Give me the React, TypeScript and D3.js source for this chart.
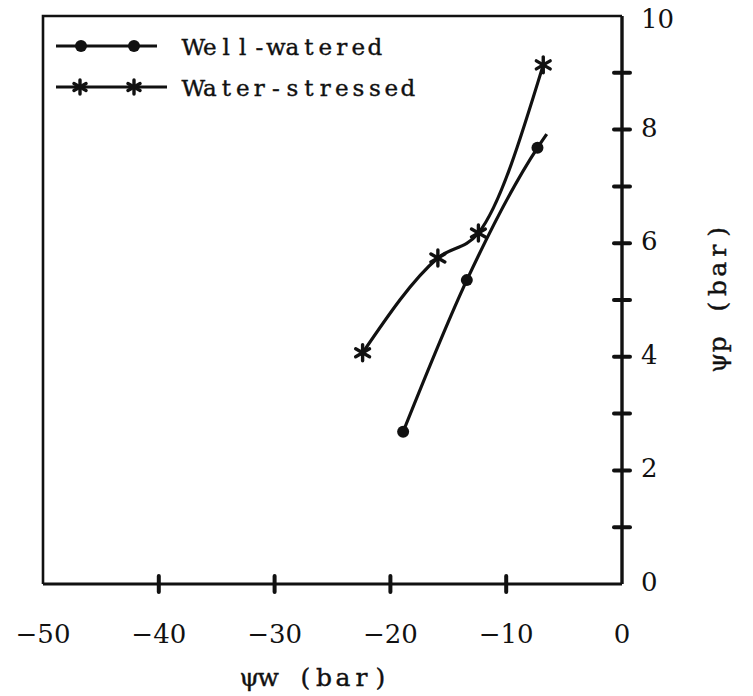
import React from 'react';
import * as d3 from 'd3';

// data (psi w, psi p in bar)
const wellWateredX = [-18.9, -13.4, -7.3];
const wellWateredY = [2.68, 5.35, 7.68];
// the drawn curve runs a little past the last marker
const wellWateredTailX = [-6.5];
const wellWateredTailY = [7.92];

const stressedX = [-22.4, -15.9, -12.4, -6.8];
const stressedY = [4.07, 5.74, 6.18, 9.14];

const xTicks = [-50, -40, -30, -20, -10, 0];
const xTickLabels = ['\u221250', '\u221240', '\u221230', '\u221220', '\u221210', '0'];
const yTicks = [0, 1, 2, 3, 4, 5, 6, 7, 8, 9, 10];
const yTickLabels = ['0', '2', '4', '6', '8', '10'];

const legendNames = ['Well-watered', 'Water-stressed'];
const xTitle = 'ψw (bar)';
const yTitle = 'ψp (bar)';

const W = 753;
const H = 696;
const ink = '#111';
const serif = '"DejaVu Serif", "Liberation Serif", serif';

const x = d3.scaleLinear().domain([-50, 0]).range([43, 622]);
const y = d3.scaleLinear().domain([0, 10]).range([584, 16]);

const line = d3
  .line<[number, number]>()
  .x(d => x(d[0]))
  .y(d => y(d[1]))
  .curve(d3.curveMonotoneX);

// typewriter look: every glyph centred in a fixed-pitch cell
function TypeText({ x0, y0, pitch, size, text, transform }:
  { x0: number; y0: number; pitch: number; size: number; text: string; transform?: string }) {
  const xs = Array.from(text).map((_, i) => (x0 + pitch * (i + 0.5)).toFixed(1)).join(' ');
  return (
    <text x={xs} y={y0} textAnchor="middle" fontFamily={serif} fontSize={size}
      fill={ink} stroke={ink} strokeWidth={0.4} transform={transform}>{text}</text>
  );
}

function Star({ cx, cy, r = 8 }: { cx: number; cy: number; r?: number }) {
  const arms = [90, 30, 150].map(a => {
    const t = (a * Math.PI) / 180;
    return [Math.cos(t) * r, Math.sin(t) * r];
  });
  return (
    <g>
      {arms.map((p, i) => (
        <line key={i} x1={cx - p[0]} y1={cy - p[1]} x2={cx + p[0]} y2={cy + p[1]}
          stroke={ink} strokeWidth={3.4} strokeLinecap="round" />
      ))}
    </g>
  );
}

export default function App() {
  const ww: [number, number][] = wellWateredX.map((v, i) => [v, wellWateredY[i]]);
  const wwLine = ww.concat(wellWateredTailX.map((v, i) => [v, wellWateredTailY[i]] as [number, number]));
  const ws: [number, number][] = stressedX.map((v, i) => [v, stressedY[i]]);

  return (
    <svg width={W} height={H} style={{ position: 'absolute', left: 0, top: 0, background: '#fff' }}>
      {/* frame */}
      <path d={`M${x(-50)},${y(0)} L${x(-50)},${y(10)} L${x(0)},${y(10)}`}
        fill="none" stroke={ink} strokeWidth={2.6} />
      <line x1={x(-50)} y1={y(0)} x2={x(0)} y2={y(0)} stroke={ink} strokeWidth={3} />
      <line x1={x(0)} y1={y(0)} x2={x(0)} y2={y(10)} stroke={ink} strokeWidth={3.4} />

      {/* x ticks */}
      {xTicks.slice(1, -1).map(t => (
        <line key={t} x1={x(t)} x2={x(t)} y1={y(0) - 8} y2={y(0) + 8}
          stroke={ink} strokeWidth={4} strokeLinecap="round" />
      ))}
      {xTicks.map((t, i) => (
        <text key={t} x={x(t)} y={643} textAnchor="middle" fontFamily={serif}
          fontSize={26} fill={ink}>{xTickLabels[i]}</text>
      ))}
      <TypeText x0={240} y0={686} pitch={18.7} size={25} text={xTitle} />

      {/* right y axis */}
      {yTicks.slice(1, -1).map(t => (
        <line key={t} x1={x(0) - 8} x2={x(0) + 8} y1={y(t)} y2={y(t)}
          stroke={ink} strokeWidth={4} strokeLinecap="round" />
      ))}
      {yTickLabels.map(l => (
        <text key={l} x={641} y={Math.max(y(+l) + 7, 28)} fontFamily={serif} fontSize={26}
          fill={ink}>{l}</text>
      ))}
      <TypeText x0={-75} y0={8} pitch={18.7} size={25} text={yTitle}
        transform={`translate(718,${y(5.05)}) rotate(-90)`} />

      {/* series */}
      <path d={line(wwLine) ?? ''} fill="none" stroke={ink} strokeWidth={3.2} />
      <path d={line(ws) ?? ''} fill="none" stroke={ink} strokeWidth={3.2} />
      {ww.map((d, i) => (
        <circle key={i} cx={x(d[0])} cy={y(d[1])} r={6} fill={ink} />
      ))}
      {ws.map((d, i) => (
        <Star key={i} cx={x(d[0])} cy={y(d[1])} />
      ))}

      {/* legend */}
      <g>
        <line x1={56} x2={157} y1={46} y2={46} stroke={ink} strokeWidth={3} />
        <circle cx={81} cy={46} r={6} fill={ink} />
        <circle cx={134} cy={46} r={6} fill={ink} />
        <TypeText x0={185} y0={55} pitch={16.5} size={23} text={legendNames[0]} />
        <line x1={56} x2={167} y1={87} y2={87} stroke={ink} strokeWidth={3} />
        <Star cx={80} cy={87} r={7} />
        <Star cx={134} cy={87} r={7} />
        <TypeText x0={185} y0={96} pitch={16.5} size={23} text={legendNames[1]} />
      </g>
    </svg>
  );
}
